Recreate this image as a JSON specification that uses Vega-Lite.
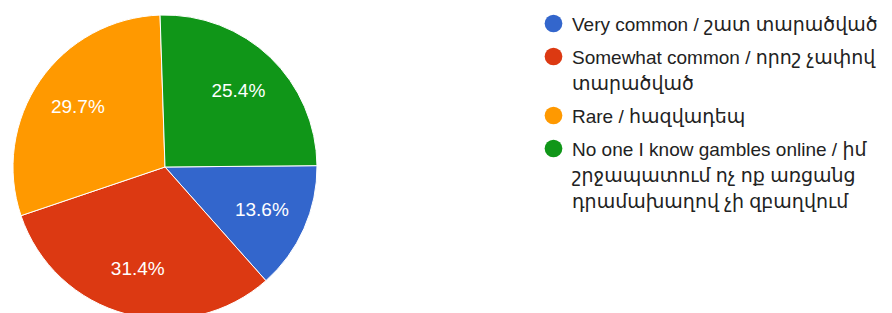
{
  "$schema": "https://vega.github.io/schema/vega-lite/v6.json",
  "width": 304,
  "height": 304,
  "padding": {"left": 11, "top": 13, "right": 0, "bottom": 0},
  "autosize": "pad",
  "background": "white",
  "config": {
    "view": {"stroke": null},
    "style": {"guide-label": {"lineHeight": 26, "dy": -8}}
  },
  "data": {
    "values": [
      {"idx": 1, "cat": "Very common / շատ տարածված", "share": 0.136},
      {"idx": 2, "cat": "Somewhat common / որոշ չափով\nտարածված", "share": 0.314},
      {"idx": 3, "cat": "Rare / հազվադեպ", "share": 0.297},
      {"idx": 4, "cat": "No one I know gambles online / իմ\nշրջապատում ոչ ոք առցանց\nդրամախաղով չի զբաղվում", "share": 0.254}
    ]
  },
  "encoding": {
    "theta": {"field": "share", "type": "quantitative", "stack": true, "scale": {"range": [1.562, 7.845]}},
    "order": {"field": "idx", "type": "quantitative"}
  },
  "layer": [
    {
      "mark": {"type": "arc", "stroke": "white", "strokeWidth": 1},
      "encoding": {
        "color": {
          "field": "cat",
          "type": "nominal",
          "scale": {
            "domain": [
              "Very common / շատ տարածված",
              "Somewhat common / որոշ չափով\nտարածված",
              "Rare / հազվադեպ",
              "No one I know gambles online / իմ\nշրջապատում ոչ ոք առցանց\nդրամախաղով չի զբաղվում"
            ],
            "range": ["#3366cc", "#dc3912", "#ff9900", "#109618"]
          },
          "legend": {
            "title": null,
            "orient": "none",
            "legendX": 531,
            "legendY": -1,
            "padding": 0,
            "symbolType": "circle",
            "symbolSize": 314,
            "symbolStrokeWidth": 0,
            "symbolOpacity": 1,
            "labelExpr": "split(datum.label, '\\n')",
            "labelFont": "Liberation Sans, Arial, Noto Sans, DejaVu Sans",
            "labelFontSize": 19,
            "labelColor": "#222222",
            "labelLimit": 400,
            "labelOffset": 9,
            "labelBaseline": "top",
            "rowPadding": 12
          }
        }
      }
    },
    {
      "mark": {"type": "text", "radius": 106, "color": "white", "fontSize": 19, "font": "Liberation Sans, Arial"},
      "encoding": {
        "text": {"field": "share", "type": "quantitative", "format": ".1%"},
        "detail": {"field": "cat"}
      }
    }
  ]
}
